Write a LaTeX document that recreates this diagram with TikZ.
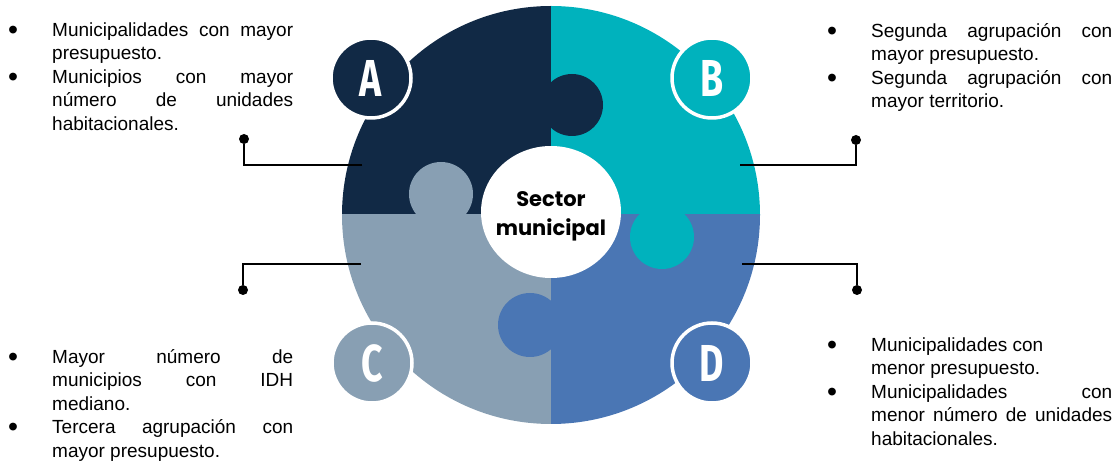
\documentclass[tikz,border=0pt]{standalone}
\usepackage{fontspec}
\usepackage{enumitem}
\setmainfont{Liberation Sans}
\newfontfamily\sectorfont{Poppins}
\newfontfamily\letterfont{Fira Sans}
\usetikzlibrary{positioning}
\definecolor{navyA}{RGB}{17,41,69}
\definecolor{tealB}{RGB}{0,178,189}
\definecolor{greyC}{RGB}{136,159,179}
\definecolor{blueD}{RGB}{74,118,180}

\tolerance=10000
\hyphenpenalty=10000
\newcommand{\bigbullet}{\vrule height 16bp width 0pt\hspace*{-1bp}\raisebox{-3bp}{\scalebox{1.5}{\textbullet}}}
\setlist[itemize]{label=\bigbullet,leftmargin=43bp,labelwidth=43bp,
  labelsep=0pt,labelindent=0pt,align=left,itemsep=0pt,parsep=0pt,topsep=0pt,partopsep=0pt}

\begin{document}
\begin{tikzpicture}[x=1bp, y=-1bp,
  letter node/.style={circle,draw=white,line width=3.5bp,minimum size=80bp,inner sep=0pt,
    text=white,font=\fontsize{52bp}{52bp}\letterfont\bfseries},
  dot node/.style={circle,fill=black,inner sep=0pt,minimum size=10bp},
  info node/.style={anchor=north west,inner sep=0pt,text width=284bp,align=justify,
    font=\fontsize{19bp}{23.4bp}\selectfont},
  link/.style={line width=2bp}]

\useasboundingbox (0,0) rectangle (1118,464);

% puzzle quarters
\foreach \col/\xa/\ya/\xb/\yb in {navyA/0/0/551/215, tealB/551/0/1118/215,
    greyC/0/215/551/464, blueD/551/215/1118/464}
{
  \begin{scope}
    \clip (\xa,\ya) rectangle (\xb,\yb);
    \fill[\col] (551,215) circle[radius=209];
  \end{scope}
}

% knobs
\fill[navyA] (572,105) circle[radius=31];
\fill[greyC] (441,194) circle[radius=32];
\fill[tealB] (662,237) circle[radius=32];
\fill[blueD] (530,325) circle[radius=32];

% centre
\fill[white] (551,212) ellipse[x radius=70, y radius=66];
\node[align=center,inner sep=0pt,font=\fontsize{21bp}{29bp}\sectorfont\bfseries] (sector) at (551,216) {Sector\\municipal};

% letters
\node[letter node,fill=navyA] (A) at (371,78) {\scalebox{0.72}[1]{A}};
\node[letter node,fill=tealB] (B) at (712,78) {\scalebox{0.72}[1]{B}};
\node[letter node,fill=greyC] (C) at (372,363) {\scalebox{0.72}[1]{C}};
\node[letter node,fill=blueD] (D) at (712,363) {\scalebox{0.72}[1]{D}};

% connectors
\coordinate (endA) at (362,165);
\coordinate (endB) at (740,165);
\coordinate (endC) at (361,264);
\coordinate (endD) at (742,264);
\node[dot node] (dotA) at (244,139) {};
\node[dot node] (dotB) at (856,140) {};
\node[dot node] (dotC) at (243,290) {};
\node[dot node] (dotD) at (857,290) {};
\draw[link] (endA) -| (dotA);
\draw[link] (endB) -| (dotB);
\draw[link] (endC) -| (dotC);
\draw[link] (endD) -| (dotD);

% texts
\node[info node] (textA) at (9,13) {%
  \begin{itemize}
  \item Municipalidades con mayor\linebreak presupuesto.
  \item Municipios con mayor\linebreak número de unidades\linebreak habitacionales.
  \end{itemize}};
\node[info node] (textB) at (828,14) {%
  \begin{itemize}
  \item Segunda agrupación con\linebreak mayor presupuesto.
  \item Segunda agrupación con\linebreak mayor territorio.
  \end{itemize}};
\node[info node] (textC) at (9,340) {%
  \begin{itemize}
  \item Mayor número de\linebreak municipios con IDH\linebreak mediano.
  \item Tercera agrupación con\linebreak mayor presupuesto.
  \end{itemize}};
\node[info node] (textD) at (828,328) {%
  \begin{itemize}
  \item Municipalidades con\newline menor presupuesto.
  \item Municipalidades con\linebreak menor número de unidades\linebreak habitacionales.
  \end{itemize}};

\end{tikzpicture}
\end{document}
